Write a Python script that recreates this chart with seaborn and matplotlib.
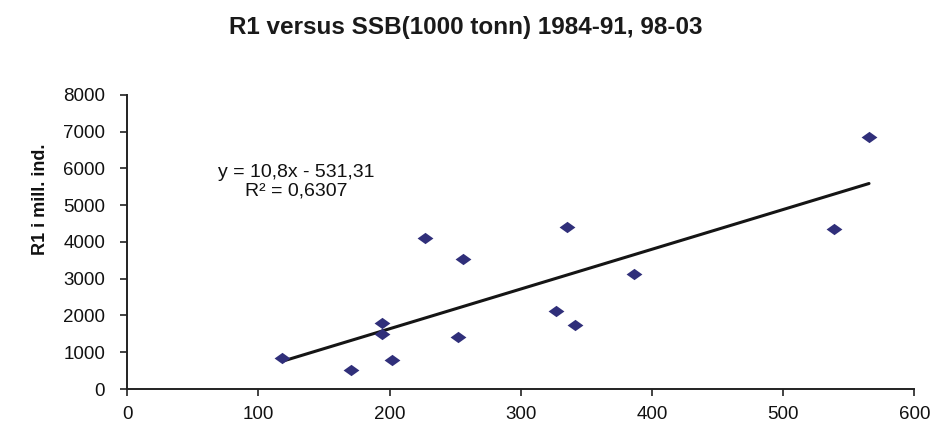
import matplotlib
matplotlib.use("Agg")
import matplotlib.pyplot as plt
import pandas as pd
import seaborn as sns

# SSB (1000 tonn) and R1 (mill. ind.), 1984-91 and 1998-03
ssb = [118.3, 170.5, 194.0, 194.0, 202.0, 227.0, 255.6, 252.0,
       565.5, 335.0, 538.8, 386.6, 327.2, 341.2]
r1 = [846, 514, 1793, 1505, 802, 4100, 3550, 1405,
      6846, 4405, 4351, 3126, 2117, 1730]

title = "R1 versus SSB(1000 tonn) 1984-91, 98-03"
ylabel = "R1 i mill. ind."
equation = "y = 10,8x - 531,31\nR² = 0,6307"
x_ticks = [0, 100, 200, 300, 400, 500, 600]
y_ticks = [0, 1000, 2000, 3000, 4000, 5000, 6000, 7000, 8000]

df = pd.DataFrame({"SSB": ssb, "R1": r1})

sns.set_theme(style="white")
plt.rcParams["font.family"] = ["Liberation Sans", "DejaVu Sans"]

fig = plt.figure(figsize=(9.38, 4.25), dpi=100)
ax = fig.add_axes([0.1357, 0.0847, 0.839, 0.6918])

# stretched diamond, like the Excel marker
diamond = [(-1.4, 0), (0, 1), (1.4, 0), (0, -1), (-1.4, 0)]

sns.regplot(
    data=df, x="SSB", y="R1", ax=ax, ci=None, truncate=True,
    marker=diamond,
    scatter_kws={"s": 130, "color": "#302f7a", "alpha": 1, "linewidths": 0, "zorder": 3},
    line_kws={"color": "#151515", "linewidth": 2.2, "zorder": 2},
)

ax.set_xlim(0, 600)
ax.set_ylim(0, 8000)
ax.set_xticks(x_ticks)
ax.set_yticks(y_ticks)
ax.tick_params(axis="both", which="major", direction="out", length=5, width=1.2,
               color="#222222", labelsize=13.5, labelcolor="#111111",
               left=True, bottom=True)
ax.tick_params(axis="y", pad=11)
ax.tick_params(axis="x", pad=7)

for side in ["top", "right"]:
    ax.spines[side].set_visible(False)
for side in ["left", "bottom"]:
    ax.spines[side].set_color("#222222")
    ax.spines[side].set_linewidth(1.4)

ax.set_xlabel("")
ax.set_ylabel(ylabel, fontsize=13, fontweight="bold", color="#111111", labelpad=14)
ax.yaxis.set_label_coords(-0.1, 0.645)

ax.text(129, 5650, equation, ha="center", va="center", fontsize=14,
        color="#111111", multialignment="center", linespacing=1.1)

fig.text(0.497, 0.935, title, ha="center", va="center", fontsize=17.5,
         fontweight="bold", color="#1a1a1a")

fig.savefig("out.png", dpi=100)
